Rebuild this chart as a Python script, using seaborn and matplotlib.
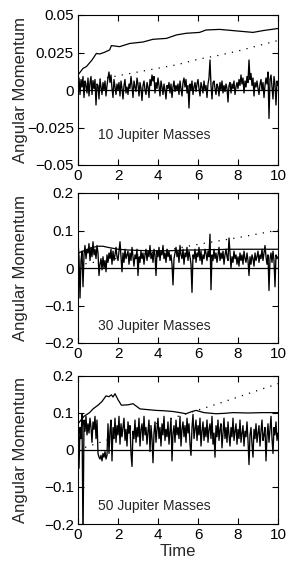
import numpy as np
import pandas as pd
import matplotlib
matplotlib.use("Agg")
import matplotlib.pyplot as plt
import seaborn as sns

# ---------------- data ----------------
time_noisy = [round(i * 0.05, 2) for i in range(201)]

noisy_10 = [
    0.004, 0.008, -0.003, 0.007, 0.002, 0.009, -0.005, 0.006, 0.003, -0.002,
    0.008, -0.004, 0.005, 0.009, -0.003, 0.006, 0.001, 0.007, -0.010, 0.004,
    0.003, -0.006, 0.007, 0.002, -0.003, 0.005, 0.000, 0.006, -0.004, 0.003,
    0.008, 0.012, 0.005, 0.010, 0.001, -0.005, 0.007, 0.002, -0.003, 0.004,
    0.000, 0.005, -0.004, 0.006, 0.001, -0.006, 0.003, 0.007, -0.002, 0.002,
    -0.003, 0.004, 0.001, 0.009, 0.003, -0.005, 0.006, 0.002, -0.001, 0.008,
    0.004, -0.004, 0.005, 0.001, -0.007, 0.003, 0.006, 0.000, -0.003, 0.005,
    0.002, -0.005, 0.007, 0.003, 0.010, 0.006, 0.009, -0.002, 0.005, 0.001,
    0.008, 0.003, -0.004, 0.006, 0.002, -0.003, 0.004, 0.000, -0.006, 0.003,
    0.001, 0.005, -0.002, 0.004, -0.005, 0.002, 0.006, -0.001, 0.003, 0.000,
    0.004, -0.003, 0.006, 0.001, -0.004, 0.005, 0.008, 0.002, 0.007, -0.002,
    0.003, -0.012, 0.004, 0.000, 0.006, -0.003, 0.002, 0.005, -0.001, 0.004,
    0.007, 0.001, -0.004, 0.005, 0.002, -0.002, 0.006, 0.000, 0.003, -0.005,
    0.004, 0.008, 0.020, 0.003, -0.006, 0.005, 0.006, 0.001, -0.003, 0.004,
    0.002, -0.004, 0.005, 0.000, 0.006, -0.002, 0.003, -0.001, 0.004, 0.001,
    -0.008, 0.003, 0.005, -0.002, 0.004, 0.001, 0.006, -0.003, 0.002, 0.005,
    0.001, 0.007, 0.003, 0.010, 0.004, 0.008, -0.002, 0.006, 0.002, 0.009,
    0.005, 0.020, 0.007, 0.011, 0.003, 0.008, -0.004, 0.005, 0.002, 0.006,
    0.001, -0.003, 0.004, 0.007, 0.000, 0.005, -0.005, 0.003, 0.008, 0.004,
    0.012, -0.019, 0.007, 0.010, 0.002, -0.006, 0.009, 0.004, -0.010, 0.006,
    0.003,
]

noisy_30 = [
    0.070, 0.030, -0.080, 0.020, 0.045, -0.050, 0.035, 0.060, 0.025, 0.050,
    0.040, 0.065, 0.020, 0.055, 0.030, 0.070, 0.035, 0.050, 0.025, 0.060,
    0.040, -0.020, 0.010, 0.025, -0.005, 0.030, 0.000, 0.020, -0.010, 0.035,
    0.015, 0.040, 0.025, 0.050, 0.010, 0.045, 0.020, 0.035, 0.055, 0.030,
    0.020, 0.045, 0.070, 0.030, -0.010, 0.040, 0.015, 0.050, 0.025, 0.035,
    0.045, 0.010, 0.040, 0.020, 0.055, 0.030, 0.005, 0.035, 0.025, 0.050,
    -0.020, 0.030, 0.015, 0.045, 0.025, 0.040, 0.010, 0.035, 0.050, 0.020,
    0.045, 0.030, 0.060, 0.025, 0.040, 0.015, 0.050, 0.035, -0.020, 0.045,
    0.030, 0.055, 0.020, 0.045, 0.035, 0.060, 0.025, 0.040, 0.015, 0.050,
    0.030, 0.045, 0.020, 0.035, 0.010, -0.045, 0.025, 0.040, 0.055, 0.030,
    0.045, 0.015, 0.060, 0.035, 0.025, 0.050, 0.010, 0.040, 0.030, 0.055,
    0.020, 0.045, 0.030, 0.010, -0.065, 0.035, 0.025, 0.050, 0.015, 0.040,
    0.030, 0.055, 0.020, 0.045, 0.010, 0.035, 0.025, 0.050, 0.040, 0.020,
    0.045, 0.030, 0.090, -0.058, 0.035, 0.020, 0.050, 0.025, 0.040, 0.015,
    0.035, 0.055, 0.020, 0.040, 0.025, 0.045, 0.010, 0.035, 0.050, 0.030,
    0.020, 0.080, 0.040, 0.000, 0.030, 0.015, 0.045, 0.025, 0.035, 0.010,
    0.030, 0.005, 0.040, 0.020, 0.035, 0.010, 0.045, 0.025, 0.015, 0.040,
    0.020, -0.020, 0.030, 0.010, 0.035, 0.025, 0.005, 0.040, 0.020, 0.030,
    0.045, 0.015, 0.035, 0.025, 0.050, 0.020, 0.040, 0.060, 0.030, 0.010,
    0.035, -0.060, 0.025, 0.040, 0.015, 0.045, 0.020, -0.050, 0.035, 0.025,
    0.030,
]

noisy_50 = [
    0.090, -0.050, 0.060, 0.030, 0.095, -0.250, 0.080, 0.050, 0.090, 0.040,
    0.070, 0.045, 0.085, 0.060, 0.020, 0.075, 0.055, 0.090, 0.030, 0.080,
    -0.010, -0.020, -0.025, -0.015, -0.030, -0.010, -0.020, -0.005, -0.025, -0.015,
    0.070, -0.010, 0.050, 0.080, -0.030, 0.060, 0.030, 0.085, 0.020, 0.065,
    0.040, 0.090, 0.015, 0.070, 0.035, 0.060, 0.085, 0.025, 0.055, 0.010,
    0.075, 0.045, 0.065, -0.010, -0.045, 0.050, 0.030, 0.080, 0.020, 0.060,
    0.035, 0.085, 0.010, 0.055, 0.070, 0.025, 0.090, 0.040, 0.060, 0.015,
    0.050, 0.080, -0.005, 0.065, 0.030, -0.035, 0.045, 0.075, 0.020, 0.055,
    0.085, 0.030, 0.060, 0.010, 0.070, 0.040, 0.090, 0.025, 0.055, 0.035,
    0.075, 0.015, 0.050, 0.085, -0.030, 0.045, 0.065, 0.020, 0.080, 0.040,
    0.060, 0.030, 0.090, 0.010, 0.055, 0.075, 0.035, 0.065, 0.020, 0.085,
    0.045, 0.070, 0.015, -0.015, 0.060, 0.095, 0.030, 0.055, 0.080, 0.025,
    0.065, 0.040, 0.085, 0.010, 0.050, 0.075, 0.025, 0.060, 0.035, 0.080,
    0.020, 0.055, 0.070, 0.030, 0.090, 0.015, 0.045, -0.020, 0.065, 0.035,
    0.080, 0.025, 0.055, 0.070, 0.005, 0.045, 0.085, 0.030, 0.060, 0.020,
    0.075, 0.040, 0.010, 0.060, 0.035, 0.085, 0.025, 0.050, 0.070, 0.015,
    0.055, 0.030, 0.080, 0.020, 0.045, 0.065, 0.010, 0.050, 0.035, 0.075,
    0.025, -0.040, 0.040, 0.060, 0.015, -0.020, 0.055, 0.030, 0.070, 0.020,
    0.045, 0.065, 0.010, 0.050, 0.080, 0.025, 0.040, 0.060, -0.030, 0.035,
    0.070, 0.020, 0.055, 0.090, 0.030, -0.010, 0.060, 0.040, 0.075, 0.025,
    0.045,
]

time_mean_10 = [0.0, 0.25, 0.42, 0.7, 0.92, 1.08, 1.3, 1.58, 1.67, 2.08, 2.58, 3.25,
                3.75, 4.42, 4.92, 5.4, 6.08, 6.4, 7.08, 7.75, 8.25, 8.75, 9.25, 10.0]
mean_10 = [0.010, 0.0144, 0.0156, 0.020, 0.0244, 0.024, 0.025, 0.0267, 0.0296, 0.0289,
           0.031, 0.032, 0.0338, 0.0344, 0.0367, 0.0378, 0.0384, 0.040, 0.0404, 0.0396,
           0.039, 0.0384, 0.0396, 0.041]

time_mean_30 = [0.0, 0.25, 0.5, 0.75, 1.0, 1.25, 1.5, 2.0, 2.5, 3.0, 3.5, 4.0, 4.5, 5.0,
                5.5, 6.0, 6.5, 7.0, 7.5, 8.0, 8.5, 9.0, 9.5, 10.0]
mean_30 = [0.040, 0.045, 0.050, 0.055, 0.058, 0.058, 0.055, 0.050, 0.048, 0.047, 0.046,
           0.046, 0.046, 0.047, 0.048, 0.048, 0.049, 0.049, 0.050, 0.050, 0.050, 0.050,
           0.050, 0.050]

time_mean_50 = [0.0, 0.3, 0.58, 0.75, 1.0, 1.2, 1.4, 1.55, 1.67, 1.75, 1.85, 2.0, 2.17,
                2.5, 2.75, 3.1, 3.5, 3.9, 4.3, 4.75, 5.1, 5.4, 5.7, 5.9, 6.3, 6.9, 7.3,
                7.75, 8.5, 9.2, 10.0]
mean_50 = [0.070, 0.090, 0.100, 0.110, 0.120, 0.130, 0.145, 0.143, 0.148, 0.142, 0.151,
           0.135, 0.120, 0.121, 0.124, 0.110, 0.108, 0.106, 0.105, 0.103, 0.100, 0.097,
           0.103, 0.106, 0.100, 0.097, 0.098, 0.100, 0.099, 0.100, 0.100]

time_trend = [0, 1, 2, 3, 4, 5, 6, 7, 8, 9, 10]
trend_10 = [0.003, 0.007, 0.0095, 0.012, 0.0145, 0.017, 0.0205, 0.023, 0.026, 0.0295, 0.033]
trend_30 = [0.008, 0.017, 0.026, 0.035, 0.044, 0.053, 0.063, 0.072, 0.081, 0.091, 0.101]
trend_50 = [0.000, 0.018, 0.036, 0.054, 0.072, 0.090, 0.107, 0.124, 0.142, 0.160, 0.178]

panel_labels = ["10 Jupiter Masses", "30 Jupiter Masses", "50 Jupiter Masses"]
ylims = [(-0.05, 0.05), (-0.2, 0.2), (-0.2, 0.2)]
ytick_vals = [[-0.05, -0.025, 0, 0.025, 0.05], [-0.2, -0.1, 0, 0.1, 0.2], [-0.2, -0.1, 0, 0.1, 0.2]]
ytick_labels = [["\u22120.05", "\u22120.025", "0", "0.025", "0.05"],
                ["\u22120.2", "\u22120.1", "0", "0.1", "0.2"],
                ["\u22120.2", "\u22120.1", "0", "0.1", "0.2"]]
xtick_vals = [0, 2, 4, 6, 8, 10]
xtick_labels = ["0", "2", "4", "6", "8", "10"]
label_y = [-0.030, -0.154, -0.151]

# ---------------- plot ----------------
sns.set_style("ticks")
plt.rcParams["font.family"] = ["Liberation Sans", "DejaVu Sans"]

W, H = 293, 568
fig = plt.figure(figsize=(W / 100, H / 100), dpi=100)

boxes = [(15, 165), (193, 343), (375.5, 524)]
left, right = 78, 278

noisy = [noisy_10, noisy_30, noisy_50]
means = [(time_mean_10, mean_10), (time_mean_30, mean_30), (time_mean_50, mean_50)]
trends = [trend_10, trend_30, trend_50]

for i in range(3):
    top, bot = boxes[i]
    ax = fig.add_axes([left / W, 1 - bot / H, (right - left) / W, (bot - top) / H])
    ax.axhline(0, color="k", lw=0.9, zorder=1)
    sns.lineplot(x=time_noisy, y=noisy[i], ax=ax, color="k", lw=0.95,
                 estimator=None, sort=False, zorder=2)
    sns.lineplot(x=time_trend, y=trends[i], ax=ax, color="k", lw=0.9,
                 estimator=None, sort=False, linestyle=(0, (1, 5)), zorder=3)
    sns.lineplot(x=means[i][0], y=means[i][1], ax=ax, color="k", lw=0.9,
                 estimator=None, sort=False, zorder=4)
    ax.set_xlim(0, 10)
    ax.set_ylim(*ylims[i])
    ax.set_yticks(ytick_vals[i])
    ax.set_yticklabels(ytick_labels[i])
    ax.set_xticks(xtick_vals)
    ax.set_xticklabels(xtick_labels)
    ax.tick_params(direction="in", top=True, right=True, length=4, width=0.8,
                   labelsize=11, pad=3, colors="k")
    for s in ax.spines.values():
        s.set_visible(True)
        s.set_linewidth(0.8)
        s.set_color("k")
    ax.set_ylabel("Angular Momentum", fontsize=12)
    ax.yaxis.set_label_coords(-0.25, 0.5)
    ax.set_xlabel("Time" if i == 2 else "", fontsize=12, labelpad=1)
    ax.text(1.0, label_y[i], panel_labels[i], fontsize=10, va="center", ha="left")

fig.savefig("out.png", dpi=100)
